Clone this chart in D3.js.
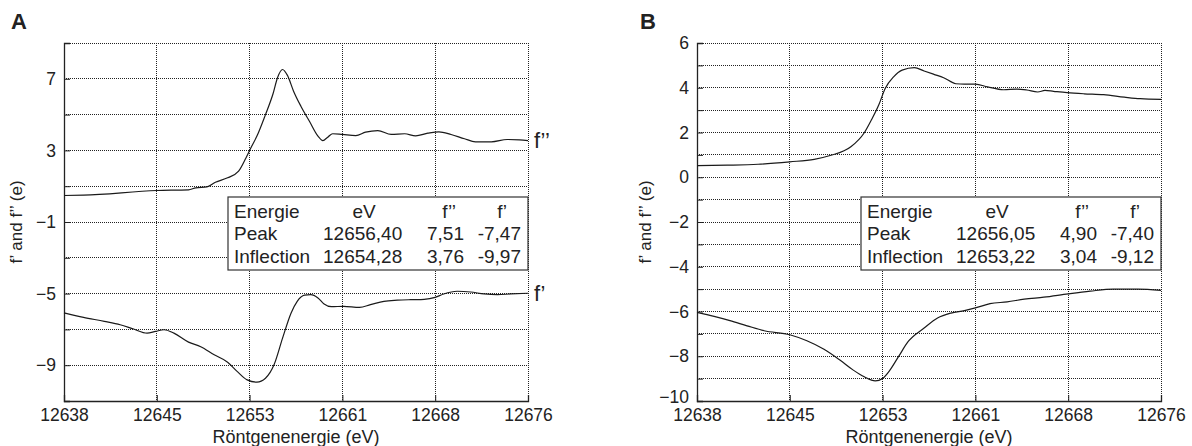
<!DOCTYPE html>
<html><head><meta charset="utf-8">
<script src="https://cdn.jsdelivr.net/npm/d3@7"></script>
<style>
html,body{margin:0;padding:0;background:#fff;}
svg text{font-family:"Liberation Sans",Arial,Helvetica,sans-serif;fill:#222;}
</style></head>
<body>
<svg id="chart" width="1192" height="446"></svg>
<script>
// ---------- data ----------
const xTickLabels = ["12638","12645","12653","12661","12668","12676"];
const xDomain = [12638, 12676];

// Panel A
const aYTickLabels = [7, 3, -1, -5, -9];
const aFppE = [12638.0,12639.6,12645.6,12648.2,12648.8,12649.7,12650.4,12651.4,12652.3,12652.9,12653.3,12653.8,12654.5,12655.1,12655.5,12655.9,12656.3,12656.8,12657.4,12658.1,12658.8,12659.2,12659.6,12660.0,12660.8,12661.9,12662.7,12663.7,12664.8,12665.9,12666.8,12667.8,12668.7,12669.7,12670.8,12671.7,12673.0,12674.3,12675.3,12676.0];
const aFppV = [0.48,0.50,0.76,0.80,0.91,0.96,1.22,1.47,1.84,2.58,3.14,3.80,5.00,6.12,7.09,7.52,7.19,6.31,5.47,4.63,3.80,3.55,3.74,3.93,3.89,3.83,4.02,4.11,3.89,3.93,3.81,3.96,4.04,3.89,3.65,3.48,3.48,3.61,3.59,3.55];
const aFpE = [12638.0,12639.6,12641.3,12642.6,12643.7,12644.8,12645.5,12646.2,12647.0,12648.2,12649.2,12650.3,12651.4,12652.2,12653.0,12653.8,12654.5,12655.2,12655.9,12656.6,12657.1,12657.7,12658.2,12658.8,12659.3,12659.9,12660.9,12662.2,12663.1,12664.2,12665.3,12666.4,12667.5,12668.4,12669.1,12670.2,12671.3,12672.4,12673.5,12674.6,12676.0];
const aFpV = [-6.08,-6.33,-6.55,-6.74,-6.98,-7.21,-7.11,-7.02,-7.21,-7.71,-7.97,-8.42,-8.83,-9.36,-9.82,-9.95,-9.73,-8.98,-7.49,-6.08,-5.43,-5.09,-5.06,-5.24,-5.58,-5.73,-5.71,-5.77,-5.62,-5.43,-5.37,-5.34,-5.32,-5.21,-5.02,-4.87,-4.91,-5.02,-5.06,-5.02,-4.98];
const aTableRows = [["Energie","eV","f’’","f’"],["Peak","12656,40","7,51","-7,47"],["Inflection","12654,28","3,76","-9,97"]];

// Panel B
const bYTickLabels = [6, 4, 2, 0, -2, -4, -6, -8, -10];
const bFppE = [12638.0,12640.5,12643.0,12645.6,12647.6,12648.9,12650.6,12651.7,12652.3,12652.9,12653.4,12654.1,12654.8,12655.8,12656.6,12657.4,12658.2,12659.2,12659.9,12660.8,12661.8,12663.1,12664.2,12665.0,12665.9,12666.5,12667.2,12668.3,12669.7,12671.3,12673.0,12674.3,12676.0];
const bFppV = [0.52,0.54,0.58,0.69,0.80,0.97,1.36,1.99,2.58,3.25,3.96,4.49,4.79,4.90,4.75,4.60,4.45,4.18,4.16,4.16,4.04,3.91,3.94,3.90,3.81,3.88,3.84,3.78,3.73,3.69,3.58,3.51,3.48];
const bFpE = [12638.0,12639.4,12640.7,12642.1,12643.5,12645.6,12647.0,12648.4,12649.7,12650.8,12651.7,12652.6,12653.2,12653.8,12654.5,12655.3,12656.6,12657.7,12658.8,12659.9,12660.8,12662.0,12663.4,12664.8,12666.4,12668.4,12670.2,12672.1,12674.1,12676.0];
const bFpV = [-6.04,-6.22,-6.41,-6.64,-6.86,-7.04,-7.31,-7.69,-8.17,-8.62,-8.92,-9.10,-8.99,-8.62,-8.02,-7.34,-6.74,-6.29,-6.07,-5.96,-5.84,-5.65,-5.57,-5.45,-5.36,-5.21,-5.09,-5.00,-5.00,-5.06];
const bTableRows = [["Energie","eV","f’’","f’"],["Peak","12656,05","4,90","-7,40"],["Inflection","12653,22","3,04","-9,12"]];

// ---------- drawing ----------
const svg = d3.select("#chart");
const W = 464, H = 358;
const FONT = '"Liberation Sans",Arial,sans-serif';
const fmtMinus = v => (v < 0 ? "\u2212" + Math.abs(v) : String(v));

function panel(cfg){
  const g = svg.append("g").attr("transform", `translate(${cfg.left},${cfg.top})`);
  const x = d3.scaleLinear().domain(xDomain).range([0, W]);
  const y = d3.scaleLinear().domain(cfg.yDomain).range([H, 0]);
  const xTicks = d3.range(xTickLabels.length).map(i => xDomain[0] + i*(xDomain[1]-xDomain[0])/(xTickLabels.length-1));
  const yGrid = d3.range(cfg.yDomain[0], cfg.yDomain[1] + 0.001, cfg.gridStep);

  // grid
  g.append("g").selectAll("line").data(yGrid).join("line")
    .attr("x1", 0).attr("x2", W).attr("y1", d => y(d)).attr("y2", d => y(d))
    .attr("stroke", "#222").attr("stroke-width", 1).attr("stroke-dasharray", "1,1")
    .attr("shape-rendering","crispEdges");
  g.append("g").selectAll("line").data(xTicks).join("line")
    .attr("x1", d => x(d)).attr("x2", d => x(d)).attr("y1", 0).attr("y2", H)
    .attr("stroke", "#222").attr("stroke-width", 1).attr("stroke-dasharray", "1,1")
    .attr("shape-rendering","crispEdges");

  // axes
  const xAxis = d3.axisBottom(x).tickValues(xTicks).tickSize(-6).tickPadding(8)
    .tickFormat((d,i) => xTickLabels[i]);
  const ga = g.append("g").attr("transform", `translate(0,${H})`).call(xAxis);
  ga.select(".domain").attr("stroke", "#222").attr("stroke-width", 1.3);
  ga.selectAll(".tick line").attr("stroke", "#222");
  ga.selectAll(".tick text").attr("font-size", 17.5).attr("dy", "0.71em")
    .style("font-family", FONT).attr("fill", "#222");

  const yAxis = d3.axisLeft(y).tickValues(yGrid).tickSize(-6).tickPadding(8)
    .tickFormat(d => cfg.yLabels.includes(d) ? fmtMinus(d) : "");
  const gy = g.append("g").call(yAxis);
  gy.select(".domain").attr("stroke", "#222").attr("stroke-width", 1.3);
  gy.selectAll(".tick line").attr("stroke", "#222");
  gy.selectAll(".tick text").attr("font-size", 17.5)
    .style("font-family", FONT).attr("fill", "#222")
    .attr("dy", d => d === cfg.yDomain[0] ? "0.1em" : "0.32em");

  // curves
  const line = d3.line().x(d => x(d[0])).y(d => y(d[1])).curve(d3.curveMonotoneX);
  [[cfg.fppE, cfg.fppV],[cfg.fpE, cfg.fpV]].forEach(([E,V]) => {
    g.append("path").datum(E.map((e,i) => [e, V[i]]))
      .attr("d", line).attr("fill", "none").attr("stroke", "#1a1a1a").attr("stroke-width", 1.2);
  });

  // curve labels
  if (cfg.curveLabels) {
    g.append("text").attr("x", W + 6).attr("y", y(cfg.fppV[cfg.fppV.length-1])).attr("dy", "0.35em")
      .attr("font-size", 22).text("f’’");
    g.append("text").attr("x", W + 6).attr("y", y(cfg.fpV[cfg.fpV.length-1])).attr("dy", "0.35em")
      .attr("font-size", 22).text("f’");
  }

  // table box
  const bx = W - 300, by = y(cfg.yDomain[1]) + 154, bw = 300, bh = 73;
  const tb = g.append("g").attr("transform", `translate(${bx},${by})`);
  tb.append("rect").attr("width", bw).attr("height", bh).attr("fill", "#fff")
    .attr("stroke", "#333").attr("stroke-width", 1.2);
  const colX = [6, 95, 236, 293];
  cfg.table.forEach((row, r) => {
    const yy = 20.5 + r*22.8;
    row.forEach((cell, c) => {
      let xx = colX[c], anchor = c === 0 ? "start" : (c === 1 ? "start" : "end");
      if (r === 0) {
        if (c === 1) { xx = 136; anchor = "middle"; }
        if (c === 2) { xx = 228; }
        if (c === 3) { xx = 279; }
      }
      tb.append("text").attr("x", xx).attr("y", yy).attr("text-anchor", anchor)
        .attr("font-size", 19).text(cell);
    });
  });

  // titles
  svg.append("text").attr("x", cfg.left + W/2).attr("y", 443).attr("text-anchor", "middle")
    .attr("font-size", 18).text("Röntgenenergie (eV)");
  svg.append("text").attr("transform", `translate(${cfg.yTitleX},${cfg.top + H/2}) rotate(-90)`)
    .attr("text-anchor", "middle").attr("font-size", 17).text("f’ and f’’ (e)");
  svg.append("text").attr("x", cfg.letterX).attr("y", 29).attr("font-size", 22)
    .attr("font-weight", "bold").text(cfg.letter);
}

panel({left: 64, top: 43, yDomain: [-11, 9], gridStep: 2, yLabels: aYTickLabels,
  fppE: aFppE, fppV: aFppV, fpE: aFpE, fpV: aFpV, table: aTableRows, curveLabels: true,
  yTitleX: 22, letter: "A", letterX: 11});
panel({left: 697, top: 43, yDomain: [-10, 6], gridStep: 1, yLabels: bYTickLabels,
  fppE: bFppE, fppV: bFppV, fpE: bFpE, fpV: bFpV, table: bTableRows, curveLabels: false,
  yTitleX: 651, letter: "B", letterX: 640});
</script>
</body></html>
